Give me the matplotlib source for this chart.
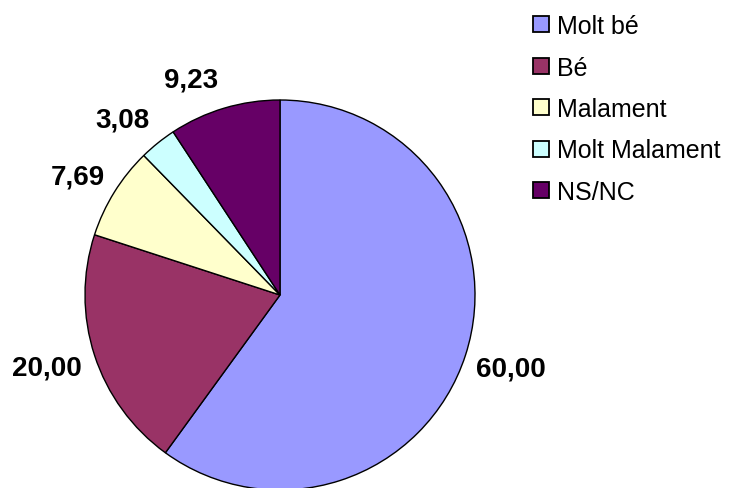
import numpy as np
import matplotlib.pyplot as plt
from matplotlib.patches import Patch

# pie data (percentages)
categories = ['Molt bé', 'Bé', 'Malament', 'Molt Malament', 'NS/NC']
values = [60.00, 20.00, 7.69, 3.08, 9.23]
value_labels = ['60,00', '20,00', '7,69', '3,08', '9,23']
colors = ['#9999FF', '#993366', '#FFFFCC', '#CCFFFF', '#660066']

# label placement tweaks (degrees off the slice middle, radius in pie radii)
label_nudge = [1.0, -1.3, 0.8, 2.6, 5.6]
label_radius = [1.24, 1.25, 1.21, 1.22, 1.21]

plt.rcParams['font.family'] = ['Liberation Sans', 'DejaVu Sans']

fig = plt.figure(figsize=(7.33, 4.89), dpi=100)
W, H = 733, 489
cx, cy, r = 280, 296, 195
ax = fig.add_axes([(cx - r) / W, (H - cy - r) / H, 2 * r / W, 2 * r / H])

wedges, texts = ax.pie(values, labels=value_labels, colors=colors,
                       startangle=90, counterclock=False,
                       wedgeprops=dict(edgecolor='black', linewidth=1.0),
                       textprops=dict(fontsize=20, fontweight='bold'))
for w, t, dang, rad in zip(wedges, texts, label_nudge, label_radius):
    mid = np.deg2rad((w.theta1 + w.theta2) / 2 + dang)
    t.set_position((rad * np.cos(mid), rad * np.sin(mid) - 0.015))
    t.set_ha('center')
    t.set_va('center')
ax.set_xlim(-1, 1)
ax.set_ylim(-1, 1)
ax.set_aspect('equal')

handles = [Patch(facecolor=c, edgecolor='black', linewidth=1.3) for c in colors]
fig.legend(handles, categories, loc='upper left',
           bbox_to_anchor=(533 / W, 1 - 15 / H), frameon=False,
           fontsize=18, handlelength=0.65, handleheight=0.62,
           handletextpad=0.3, labelspacing=0.7, borderpad=0,
           borderaxespad=0)

fig.savefig('out.png', dpi=100)
